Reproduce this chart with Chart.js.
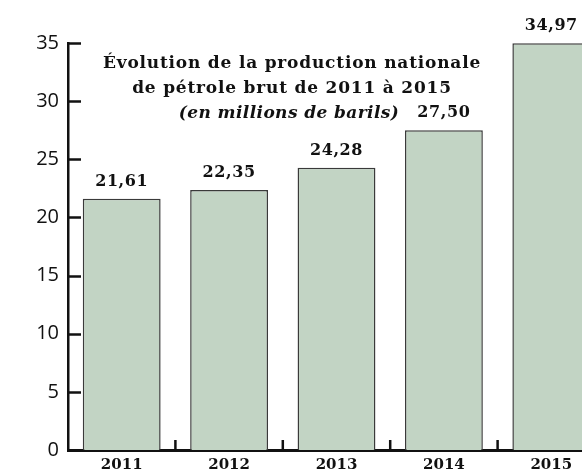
<!DOCTYPE html>
<html><head><meta charset="utf-8">
<script src="https://cdn.jsdelivr.net/npm/chart.js@4"></script>
<style>
html,body{margin:0;padding:0;overflow:hidden;background:#fff;width:582px;height:470px;}
canvas{display:block;}
</style></head>
<body>
<canvas id="c" width="605" height="490" style="width:605px;height:490px"></canvas>
<script>
const categories = ["2011", "2012", "2013", "2014", "2015"];
const production = [21.61, 22.35, 24.28, 27.50, 34.97];
const yTicks = [0, 5, 10, 15, 20, 25, 30, 35];
const titleLines = ["Évolution de la production nationale", "de pétrole brut de 2011 à 2015"];
const subtitle = "(en millions de barils)";

const fmt = v => v.toFixed(2).replace('.', ',');

const decor = {
  id: 'decor',
  afterDatasetsDraw(chart) {
    const ctx = chart.ctx, x = chart.scales.x, y = chart.scales.y, ca = chart.chartArea;
    ctx.save();
    ctx.strokeStyle = '#111';
    ctx.lineWidth = 2.5;
    yTicks.forEach(v => {
      const py = Math.round(y.getPixelForValue(v)) + 0.5;
      ctx.beginPath(); ctx.moveTo(ca.left, py); ctx.lineTo(ca.left + 13, py); ctx.stroke();
    });
    for (let i = 0; i < categories.length - 1; i++) {
      const px = (x.getPixelForTick(i) + x.getPixelForTick(i + 1)) / 2;
      ctx.beginPath(); ctx.moveTo(px, ca.bottom); ctx.lineTo(px, ca.bottom - 10); ctx.stroke();
    }
    ctx.fillStyle = '#111';
    ctx.textAlign = 'center';
    ctx.textBaseline = 'alphabetic';
    ctx.font = 'bold 16px "DejaVu Serif"';
    ctx.letterSpacing = '0.6px';
    const meta = chart.getDatasetMeta(0);
    meta.data.forEach((bar, i) => {
      ctx.fillText(fmt(production[i]), bar.x, bar.y - 13);
    });
    const cx = 292;
    ctx.font = 'bold 17px "DejaVu Serif"';
    ctx.letterSpacing = '0.8px';
    ctx.fillText(titleLines[0], cx, 68);
    ctx.fillText(titleLines[1], cx, 93);
    ctx.font = 'italic bold 17px "DejaVu Serif"';
    ctx.letterSpacing = '0.4px';
    ctx.fillText(subtitle, 289, 118);
    ctx.restore();
  }
};

new Chart(document.getElementById('c'), {
  type: 'bar',
  data: {
    labels: categories,
    datasets: [{
      data: production,
      backgroundColor: '#c2d4c4',
      borderColor: '#3a3a3a',
      borderWidth: 1.5,
      barPercentage: 0.725,
      categoryPercentage: 1.0
    }]
  },
  options: {
    responsive: false,
    animation: false,
    devicePixelRatio: 1,
    layout: { padding: { top: 43, left: 0, right: 0, bottom: 0 } },
    plugins: { legend: { display: false }, title: { display: false }, tooltip: { enabled: false } },
    scales: {
      x: {
        grid: { display: false, drawTicks: false },
        border: { display: true, color: '#111', width: 3 },
        ticks: { color: '#111', font: { family: 'DejaVu Serif', weight: 'bold', size: 15 }, padding: 6 },
        afterFit(s) { s.height = 40; }
      },
      y: {
        min: 0, max: 35,
        afterBuildTicks(s) { s.ticks = yTicks.map(v => ({ value: v })); },
        grid: { display: false, drawTicks: false },
        border: { display: true, color: '#111', width: 2.5 },
        ticks: { color: '#111', font: { family: 'Open Sans', size: 20 }, padding: 9 },
        afterFit(s) { s.width = 68; }
      }
    }
  },
  plugins: [decor]
});
</script>
</body></html>
